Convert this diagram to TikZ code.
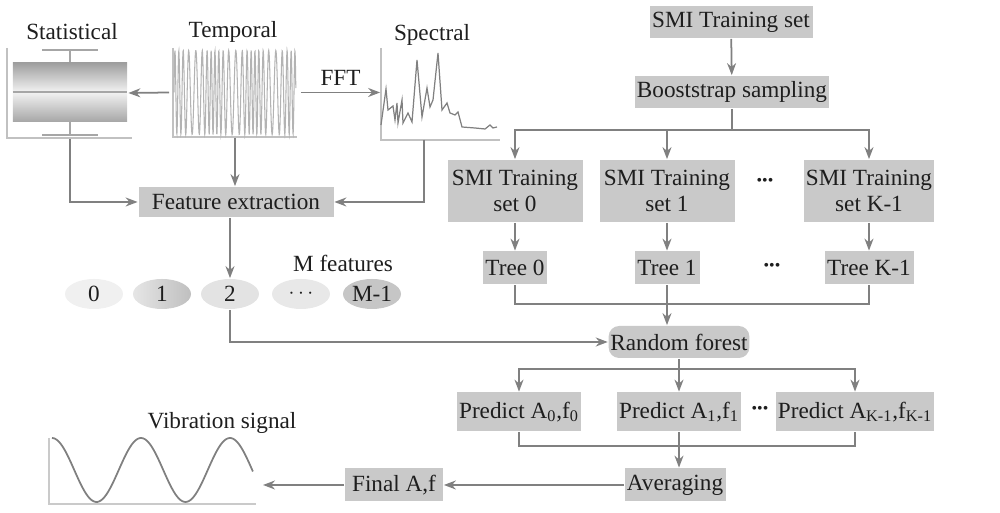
\documentclass[tikz,border=0pt]{standalone}
\usepackage{fontspec}
\setmainfont{Liberation Serif}
\usetikzlibrary{arrows.meta, positioning, calc, shapes.geometric}
\definecolor{cbox}{HTML}{C9C9C9}
\definecolor{cline}{HTML}{808080}
\definecolor{ctext}{HTML}{1E1E1E}
\definecolor{cplot}{HTML}{A6A6A6}
\tikzset{
  every picture/.style={font=\fontsize{13.2}{15}\selectfont, line width=1pt},
  box/.style={fill=cbox, text=ctext, inner sep=1pt, align=center, minimum height=0.64cm},
  arrow/.style={-{Stealth[length=2.4mm, width=1.8mm]}, draw=cline, line width=1pt},
  link/.style={draw=cline, line width=1pt},
  plotname/.style={text=ctext},
  plotframe/.style={inner sep=0pt},
  featnode/.style={ellipse, minimum width=1.16cm, minimum height=0.6cm, inner sep=0pt, text=ctext},
  dotsnode/.style={text=ctext, font=\fontsize{9}{9}\selectfont},
}
\begin{document}
\begin{tikzpicture}
  \useasboundingbox (0,0) rectangle (20,10.26);
  % statistical
  \node[plotname] (statname) at (1.44,9.62) {Statistical};
  \draw[cplot!70, line width=0.7pt] (0.14,9.30) -- (0.14,7.50) -- (2.64,7.50);
  \draw[cplot, line width=0.8pt] (1.40,9.26) -- (1.40,9.00) (0.84,9.26) -- (1.96,9.26);
  \draw[cplot, line width=0.8pt] (1.40,7.82) -- (1.40,7.56) (0.84,7.56) -- (1.96,7.56);
  \shade[top color=gray!75, bottom color=gray!10] (0.26,9.00) rectangle (2.54,8.42);
  \shade[top color=gray!10, bottom color=gray!70] (0.26,8.42) rectangle (2.54,7.82);
  \draw[cplot, line width=0.8pt] (0.26,8.42) -- (2.54,8.42);
  \node[plotframe, minimum width=2.3cm, minimum height=1.8cm] (stat) at (1.40,8.40) {};
  % temporal
  \node[plotname] (tempname) at (4.66,9.62) {Temporal};
  \draw[cplot!70, line width=0.7pt] (3.46,9.30) -- (3.46,7.52) -- (5.94,7.52);
  \draw[cplot!85, line width=0.6pt] plot[domain=0:2.44, samples=500]
    ({3.48+\x}, {8.41+0.84*sin(3600*\x + 150*sin(450*\x))});
  \node[plotframe, minimum width=2.6cm, minimum height=1.78cm] (temp) at (4.70,8.41) {};
  % spectral
  \node[plotname] (specname) at (8.64,9.56) {Spectral};
  \draw[cplot!70, line width=0.7pt] (7.62,9.30) -- (7.62,7.46) -- (10.00,7.46);
  \draw[cline, line width=0.7pt] plot coordinates {(7.62,7.76) (7.72,8.48) (7.76,8.06)
    (7.86,8.14) (7.90,7.86) (7.94,8.20) (7.96,7.80) (8.04,8.26) (8.06,7.80) (8.16,8.00)
    (8.24,7.82) (8.34,9.06) (8.44,7.92) (8.54,8.50) (8.60,8.12) (8.66,8.26) (8.76,9.20)
    (8.84,8.06) (8.94,8.20) (9.00,8.00) (9.10,7.96) (9.16,8.02) (9.24,7.72) (9.50,7.70)
    (9.70,7.68) (9.80,7.76) (9.86,7.70) (9.94,7.72)};
  \node[plotframe, minimum width=2.38cm, minimum height=1.78cm] (spec) at (8.81,8.41) {};
  \coordinate (specout) at (8.48,7.46);
  \draw[arrow] (temp.west) -- (stat.east);
  \draw[arrow] (temp.east) -- node[above, plotname] {FFT} (spec.west);
  % feature extraction
  \node[box, minimum width=3.9cm, minimum height=0.6cm] (feat) at (4.72,6.22) {Feature extraction};
  \draw[arrow] (stat.south) |- (feat.west);
  \draw[arrow] (temp.south) -- (temp.south |- feat.north);
  \draw[arrow] (specout) |- (feat.east);
  \node[featnode, fill=gray!12] (f0) at (1.88,4.38) {0};
  \node[featnode, left color=gray!20, right color=gray!50] (f1) at (3.24,4.38) {1};
  \node[featnode, fill=gray!22] (f2) at (4.60,4.38) {2};
  \node[featnode, fill=gray!18] (fd) at (6.02,4.38) {$\cdots$};
  \node[featnode, fill=gray!45] (fm) at (7.44,4.38) {M-1};
  \node[plotname] (mfeat) at (6.86,5.00) {M features};
  \draw[arrow] (f2 |- feat.south) -- (f2.north);
  % training sets and trees
  \node[box, minimum width=3.26cm] (train) at (14.62,9.82) {SMI Training set};
  \node[box, minimum width=3.84cm] (boot) at (14.64,8.42) {Booststrap sampling};
  \node[box, minimum width=2.7cm, minimum height=1.24cm] (set0) at (10.30,6.44) {SMI Training\\set 0};
  \node[box, minimum width=2.7cm, minimum height=1.24cm] (set1) at (13.34,6.44) {SMI Training\\set 1};
  \node[box, minimum width=2.56cm, minimum height=1.24cm] (setK) at (17.38,6.44) {SMI Training\\set K-1};
  \node[dotsnode] (dots1) at (15.30,6.62) {\textbullet\textbullet\textbullet};
  \node[box, minimum width=1.28cm, minimum height=0.66cm] (tree0) at (10.30,4.90) {Tree 0};
  \node[box, minimum width=1.3cm, minimum height=0.66cm] (tree1) at (13.34,4.90) {Tree 1};
  \node[box, minimum width=1.78cm, minimum height=0.66cm] (treeK) at (17.38,4.90) {Tree K-1};
  \node[dotsnode] (dots2) at (15.44,4.92) {\textbullet\textbullet\textbullet};
  \draw[arrow] (train) -- (boot);
  \coordinate (bj) at ($(boot.south)+(0,-0.42)$);
  \draw[link] (boot.south) -- (bj);
  \draw[arrow] (bj) -| (set0.north);
  \draw[arrow] (bj) -| (set1.north);
  \draw[arrow] (bj) -| (setK.north);
  \draw[arrow] (set0) -- (tree0);
  \draw[arrow] (set1) -- (tree1);
  \draw[arrow] (setK) -- (treeK);
  % random forest
  \node[box, rounded corners=6pt, minimum width=2.7cm] (rf) at (13.58,3.42) {Random forest};
  \coordinate (tj) at ($(tree1.south)+(0,-0.38)$);
  \draw[link] (tree0.south) |- (tj);
  \draw[link] (treeK.south) |- (tj);
  \draw[arrow] (tree1.south) -- (tree1.south |- rf.north);
  \draw[arrow] (f2.south) |- (rf.west);
  % predictions
  \node[box, minimum width=2.44cm, minimum height=0.78cm] (pred0) at (10.38,2.02) {Predict A\textsubscript{0},f\textsubscript{0}};
  \node[box, minimum width=2.42cm, minimum height=0.78cm] (pred1) at (13.58,2.02) {Predict A\textsubscript{1},f\textsubscript{1}};
  \node[box, minimum width=3.02cm, minimum height=0.78cm] (predK) at (17.10,2.02) {Predict A\textsubscript{K-1},f\textsubscript{K-1}};
  \node[dotsnode] (dots3) at (15.20,2.06) {\textbullet\textbullet\textbullet};
  \coordinate (rj) at ($(rf.south)+(0,-0.2)$);
  \draw[arrow] (rf.south) -- (pred1.north);
  \draw[arrow] (rj) -| (pred0.north);
  \draw[arrow] (rj) -| (predK.north);
  \node[box, minimum width=2.02cm, minimum height=0.66cm] (avg) at (13.50,0.56) {Averaging};
  \node[box, minimum width=1.96cm, minimum height=0.66cm] (final) at (7.88,0.56) {Final A,f};
  \coordinate (pj) at ($(pred1.south)+(0,-0.27)$);
  \draw[link] (pred0.south) |- (pj);
  \draw[link] (predK.south) |- (pj);
  \draw[arrow] (pred1.south) -- (pred1.south |- avg.north);
  \draw[arrow] (avg) -- (final);
  % vibration signal
  \node[plotname] (vibname) at (4.44,1.80) {Vibration signal};
  \draw[cplot!60, line width=0.6pt] (0.98,1.50) -- (0.98,0.18) -- (5.12,0.18);
  \draw[cline, line width=1pt] plot[domain=1.04:5.06, samples=120, smooth]
    (\x, {0.86+0.64*cos(360*(\x-1.04)/1.78)});
  \coordinate (vibin) at (5.26,0.52);
  \draw[arrow] (final.west) -- (final.west -| vibin);
\end{tikzpicture}
\end{document}
